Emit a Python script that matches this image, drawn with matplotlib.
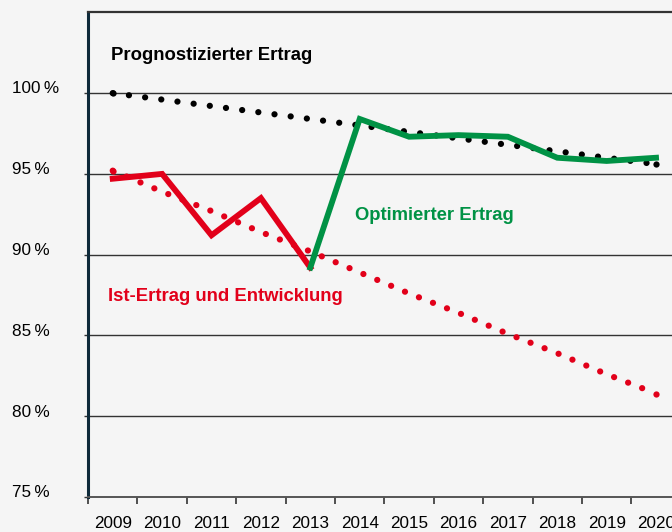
import matplotlib.pyplot as plt
from matplotlib.transforms import ScaledTranslation

plt.rcParams['font.family'] = ['Liberation Sans', 'DejaVu Sans']

years = ['2009', '2010', '2011', '2012', '2013', '2014',
         '2015', '2016', '2017', '2018', '2019', '2020']

# Ist-Ertrag (solid red, 2009-2013)
ist = [94.7, 95.0, 91.2, 93.5, 89.2]
# Optimierter Ertrag (solid green, 2013-2020)
optimiert = [89.2, 98.4, 97.3, 97.4, 97.3, 96.0, 95.8, 96.0]
# Prognose (black dotted)
prognose = [100.0, 99.6, 99.2, 98.8, 98.4, 98.0, 97.6, 97.2, 96.8, 96.4, 96.0, 95.6]
# Entwicklung ohne Optimierung (red dotted)
entwicklung = [95.2, 93.9, 92.7, 91.4, 90.2, 88.9, 87.6, 86.4, 85.1, 83.9, 82.6, 81.4]

red = '#e2001a'
green = '#009245'
bg = '#f5f5f5'

fig = plt.figure(figsize=(6.72, 5.32), dpi=100, facecolor=bg)
ax = fig.add_axes([0.131, 0.0658, 0.882, 0.911], facecolor=bg)

x = list(range(len(years)))

# dotted lines, with a dot forced at both ends
ax.plot(x, prognose, color='black', lw=4.5, linestyle=(0, (0.01, 2.6)),
        dash_capstyle='round', marker='o', markersize=4.5, markeredgewidth=0,
        markevery=[0, len(x) - 1], zorder=3)
ax.plot(x, entwicklung, color=red, lw=4.5, linestyle=(0, (0.01, 2.4)),
        dash_capstyle='round', marker='o', markersize=4.5, markeredgewidth=0,
        markevery=[0, len(x) - 1], zorder=3)
ax.plot(x[:5], ist, color=red, lw=4.2, solid_joinstyle='miter', zorder=4)
ax.plot(x[4:], optimiert, color=green, lw=4.2, solid_joinstyle='miter', zorder=5)

ax.set_xlim(-0.5, 11.5)
ax.set_ylim(75, 105)

# gridlines
for v in [80, 85, 90, 95, 100]:
    ax.axhline(v, color='#333333', lw=1.0, zorder=1)

# spines
ax.spines['right'].set_visible(False)
ax.spines['top'].set_color('#333333')
ax.spines['top'].set_linewidth(1.6)
ax.spines['left'].set_color('#0e2a3a')
ax.spines['left'].set_linewidth(2.2)
ax.spines['bottom'].set_color('#555555')
ax.spines['bottom'].set_linewidth(1.4)

# x ticks at boundaries, labels at centers
ax.set_xticks([i - 0.5 for i in range(12)])
ax.set_xticklabels([])
ax.set_xticks(x, minor=True)
ax.set_xticklabels(years, minor=True, fontsize=12.3)
ax.tick_params(axis='x', which='major', length=5, width=1.2, color='#333333', direction='out')
ax.tick_params(axis='x', which='minor', length=0, pad=14)

ax.set_yticks([75, 80, 85, 90, 95, 100])
ax.set_yticklabels([f'{v}\u2009%' for v in [75, 80, 85, 90, 95, 100]], fontsize=12.3)
ax.tick_params(axis='y', length=3, width=1.0, color='#333333', pad=52)
shift = ScaledTranslation(0, 3 / 72, fig.dpi_scale_trans)
for lab in ax.get_yticklabels():
    lab.set_horizontalalignment('left')
    lab.set_verticalalignment('center')
    lab.set_transform(lab.get_transform() + shift)

ax.text(-0.03, 102.35, 'Prognostizierter Ertrag', fontsize=13.3, fontweight='bold',
        color='black', va='center', ha='left')
ax.text(4.9, 92.45, 'Optimierter Ertrag', fontsize=13.3, fontweight='bold',
        color=green, va='center', ha='left')
ax.text(-0.1, 87.4, 'Ist-Ertrag und Entwicklung', fontsize=13.3, fontweight='bold',
        color=red, va='center', ha='left')

fig.savefig('out.png', dpi=100, facecolor=bg)
